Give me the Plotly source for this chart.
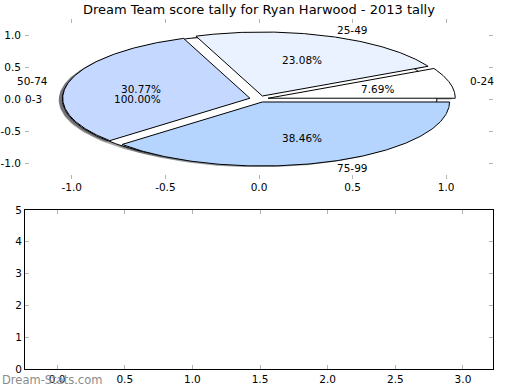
import numpy as np
import plotly.graph_objects as go

# ---- data ----
categories = ["0-24", "25-49", "50-74", "75-99"]
counts = [1, 3, 4, 5]
overlay_categories = ["0-3"]
overlay_counts = [1]
title_text = "Dream Team score tally for Ryan Harwood - 2013 tally"
bottom_xticks = [0.0, 0.5, 1.0, 1.5, 2.0, 2.5, 3.0]
bottom_yticks = [0, 1, 2, 3, 4, 5]
top_ticks = [-1.0, -0.5, 0.0, 0.5, 1.0]

# ---- style ----
slice_colors = ["#ffffff", "#eaf1ff", "#c5d8ff", "#b5d5ff"]
overlay_colors = ["#ffffff"]
EXPLODE = 0.05
LABEL_DIST = 1.1
PCT_DIST = 0.6
SHADOW = (-0.02, -0.02)
FONT = "DejaVu Sans"
TXT = 10.5

# pixel layout
ML, MR, MT, MB = 25, 27, 19, 21
W, H = 520, 390
PH = H - MT - MB


def py2paper(p):
    return (H - MB - p) / PH


fig = go.Figure()
annotations = []


def hex_to_rgb(h):
    h = h.lstrip("#")
    return [int(h[i:i + 2], 16) for i in (0, 2, 4)]


def pie_geometry(values, labels):
    total = float(sum(values))
    out = []
    t1 = 0.0
    for v, lab in zip(values, labels):
        frac = v / total
        t2 = t1 + 360.0 * frac
        mid = np.deg2rad((t1 + t2) / 2)
        cx, cy = EXPLODE * np.cos(mid), EXPLODE * np.sin(mid)
        th = np.deg2rad(np.linspace(t1, t2, 200))
        ax = cx + np.cos(th)
        ay = cy + np.sin(th)
        if t2 - t1 >= 359.999:
            px, py = list(ax), list(ay)
        else:
            px = [cx] + list(ax) + [cx]
            py = [cy] + list(ay) + [cy]
        out.append(dict(px=px, py=py, cx=cx, cy=cy, mid=mid, frac=frac, label=lab))
        t1 = t2
    return out


overlay = pie_geometry(overlay_counts, overlay_categories)
main = pie_geometry(counts, categories)

# shadows (beneath everything)
for geo, cols in ((overlay, overlay_colors), (main, slice_colors)):
    for g, c in zip(geo, cols):
        r, gg, b = [int(0.3 * v) for v in hex_to_rgb(c)]
        fig.add_trace(go.Scatter(
            x=[x + SHADOW[0] for x in g["px"]], y=[y + SHADOW[1] for y in g["py"]],
            mode="lines", fill="toself", fillcolor=f"rgba({r},{gg},{b},0.5)",
            line=dict(width=0), hoverinfo="skip", showlegend=False,
            xaxis="x", yaxis="y"))

# wedges
for geo, cols in ((overlay, overlay_colors), (main, slice_colors)):
    for g, c in zip(geo, cols):
        fig.add_trace(go.Scatter(
            x=g["px"], y=g["py"], mode="lines", fill="toself", fillcolor=c,
            line=dict(color="black", width=1), hoverinfo="skip", showlegend=False,
            xaxis="x", yaxis="y"))

# labels
for geo in (overlay, main):
    for g in geo:
        lx = g["cx"] + LABEL_DIST * np.cos(g["mid"])
        ly = g["cy"] + LABEL_DIST * np.sin(g["mid"])
        annotations.append(dict(
            x=lx, y=ly, xref="x", yref="y", text=g["label"], showarrow=False,
            xanchor="left" if lx > 0 else "right", yanchor="middle",
            font=dict(family=FONT, size=TXT, color="black")))
        qx = g["cx"] + PCT_DIST * np.cos(g["mid"])
        qy = g["cy"] + PCT_DIST * np.sin(g["mid"])
        annotations.append(dict(
            x=qx, y=qy, xref="x", yref="y", text=f"{100 * g['frac']:.2f}%",
            showarrow=False, xanchor="center", yanchor="middle",
            font=dict(family=FONT, size=TXT, color="black")))

# empty trace for bottom axes
fig.add_trace(go.Scatter(x=[], y=[], xaxis="x2", yaxis="y2", showlegend=False))

annotations.append(dict(
    x=-ML / (W - ML - MR), y=py2paper(380), xref="paper", yref="paper",
    text="Dream-Stats.com", showarrow=False, xanchor="left", yanchor="middle",
    font=dict(family=FONT, size=11.5, color="#8c8c8c")))

annotations.append(dict(
    x=0.5, y=py2paper(10), xref="paper", yref="paper", text=title_text,
    showarrow=False, xanchor="center", yanchor="middle",
    font=dict(family=FONT, size=13, color="black")))

tickfont = dict(family=FONT, size=10.5, color="black")
common = dict(ticks="inside", ticklen=4, tickwidth=1, tickcolor="#b4b4b4",
              showgrid=False, zeroline=False, tickfont=tickfont, fixedrange=True,
              automargin=False)

fig.update_layout(
    width=W, height=H, autosize=False,
    margin=dict(l=ML, r=MR, t=MT, b=MB, pad=0, autoexpand=False),
    paper_bgcolor="white", plot_bgcolor="white",
    xaxis=dict(domain=[0, 1], range=[-1.25, 1.25], anchor="y",
               tickvals=top_ticks, ticktext=[f"{v:.1f}" for v in top_ticks],
               showline=False, mirror="ticks", **common),
    yaxis=dict(domain=[py2paper(179), 1], range=[-1.25, 1.25], anchor="x",
               tickvals=top_ticks, ticktext=[f"{v:.1f}" for v in top_ticks],
               showline=False, mirror="ticks", ticklabelstandoff=3, **common),
    xaxis2=dict(domain=[0, 1], range=[-0.237, 3.222], anchor="y2",
                tickvals=bottom_xticks, ticktext=[f"{v:.1f}" for v in bottom_xticks],
                showline=True, linecolor="black", linewidth=1, mirror="ticks", **common),
    yaxis2=dict(domain=[0, py2paper(210)], range=[0, 5], anchor="x2",
                tickvals=bottom_yticks, ticktext=[str(v) for v in bottom_yticks],
                showline=True, linecolor="black", linewidth=1, mirror="ticks", **common),
    annotations=annotations,
    showlegend=False,
)

fig.write_html("out.html", config={"displayModeBar": False},
               post_script="document.body.style.margin='0px';"
                           "document.body.style.padding='0px';")
